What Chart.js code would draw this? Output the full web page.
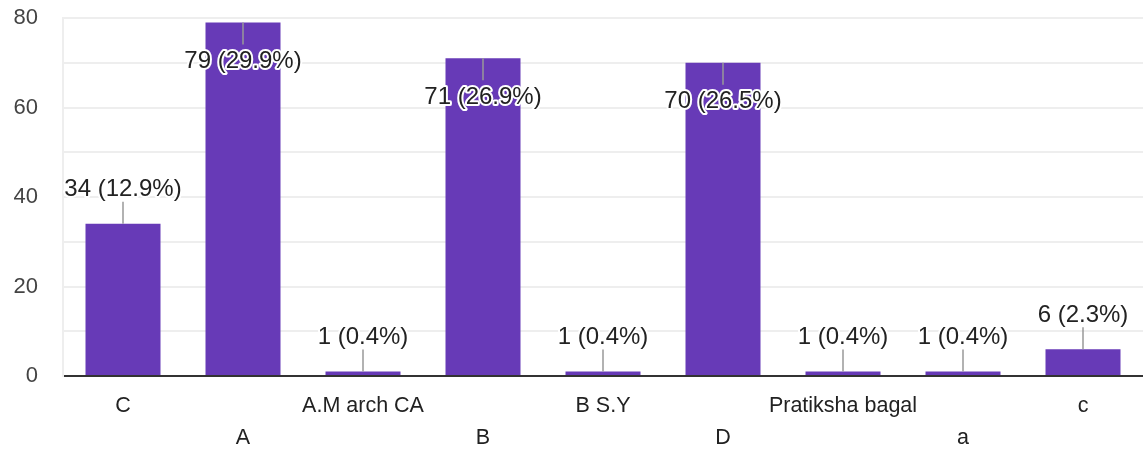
<!DOCTYPE html>
<html><head><meta charset="utf-8">
<script src="https://cdn.jsdelivr.net/npm/chart.js@4"></script>
<style>html,body{margin:0;padding:0;background:#fff}#wrap{width:1143px;height:450px}</style>
</head><body><div id="wrap"><canvas id="c" width="1143" height="450"></canvas></div>
<script>
const categories = ['C','A','A.M arch CA','B','B S.Y','D','Pratiksha bagal','a','c'];
const counts = [34,79,1,71,1,70,1,1,6];
const percents = ['12.9%','29.9%','0.4%','26.9%','0.4%','26.5%','0.4%','0.4%','2.3%'];
const yTicks = [0,20,40,60,80];

const FONT = '"Liberation Sans", Arial, sans-serif';

const labelPlugin = {
  id: 'valueLabels',
  afterDatasetsDraw(chart) {
    const ctx = chart.ctx;
    const meta = chart.getDatasetMeta(0);
    const y = chart.scales.y;
    ctx.save();
    ctx.font = '24px ' + FONT;
    ctx.textAlign = 'center';
    ctx.textBaseline = 'middle';
    meta.data.forEach((bar, i) => {
      const v = counts[i];
      const top = y.getPixelForValue(v);
      const x = bar.x;
      const inside = v > 60;
      const lineEnd = inside ? top + 22 : top - 22;
      const ty = inside ? top + 39 : top - 34;
      ctx.strokeStyle = '#999';
      ctx.lineWidth = 1.5;
      ctx.beginPath(); ctx.moveTo(x, top); ctx.lineTo(x, lineEnd); ctx.stroke();
      const txt = v + ' (' + percents[i] + ')';
      ctx.lineJoin = 'round';
      ctx.strokeStyle = '#fff';
      ctx.lineWidth = 4;
      ctx.strokeText(txt, x, ty);
      ctx.fillStyle = '#222';
      ctx.fillText(txt, x, ty);
    });
    ctx.restore();
  }
};

new Chart(document.getElementById('c'), {
  type: 'bar',
  data: {
    labels: categories,
    datasets: [{ data: counts, backgroundColor: '#673ab7', barPercentage: 0.625, categoryPercentage: 1 }]
  },
  options: {
    responsive: false,
    animation: false,
    layout: { padding: { top: 18, right: -3, left: 0, bottom: 0 } },
    plugins: { legend: { display: false }, tooltip: { enabled: false } },
    scales: {
      x: {
        afterFit: (s) => { s.height = 74; s.paddingLeft = 0; s.paddingRight = 0; },
        grid: { display: false, drawTicks: false },
        border: { color: '#333', width: 2 },
        ticks: {
          color: '#222',
          font: { family: FONT, size: 21.5, lineHeight: 1.49 },
          padding: 14,
          maxRotation: 0,
          autoSkip: false,
          callback: (v, i) => i % 2 === 0 ? categories[i] : ['', categories[i]]
        }
      },
      y: {
        min: 0, max: 80,
        afterFit: (s) => { s.width = 63; s.paddingTop = 0; s.paddingBottom = 0; },
        afterBuildTicks: (scale) => {
          const t = [];
          for (let k = 0; k <= 80; k += 10) t.push({ value: k });
          scale.ticks = t;
        },
        grid: { color: '#eeeeee', lineWidth: 2, drawTicks: false },
        border: { color: '#eeeeee', width: 2 },
        ticks: {
          color: '#444',
          font: { family: FONT, size: 22 },
          padding: 25,
          callback: (v) => yTicks.includes(v) ? String(v) : ''
        }
      }
    }
  },
  plugins: [labelPlugin]
});
</script></body></html>
